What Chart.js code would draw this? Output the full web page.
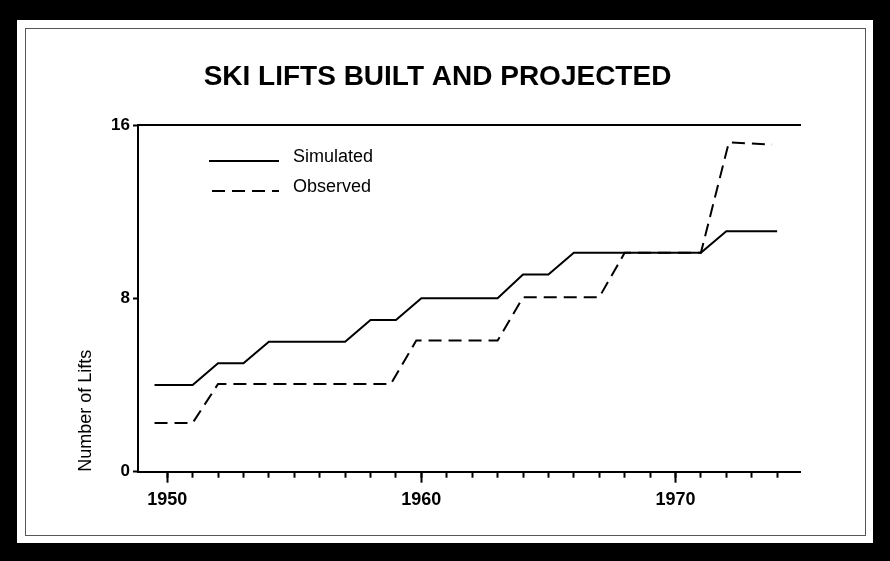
<!DOCTYPE html>
<html><head><meta charset="utf-8">
<script src="https://cdn.jsdelivr.net/npm/chart.js@4/dist/chart.umd.min.js"></script>
<style>html,body{margin:0;padding:0;background:#000;}canvas{display:block}</style>
</head><body>
<canvas id="c" width="890" height="561"></canvas>
<script>
const chartTitle = 'SKI LIFTS BUILT AND PROJECTED';
const yAxisTitle = 'Number of Lifts';
const seriesNames = ['Simulated', 'Observed'];
const simulatedYears  = [1949.5, 1951, 1952, 1953, 1954, 1957, 1958, 1959, 1960, 1963, 1964, 1965, 1966, 1971, 1972, 1974];
const simulatedValues = [4, 4, 5, 5, 6, 6, 7, 7, 8, 8, 9.1, 9.1, 10.1, 10.1, 11.1, 11.1];
const observedYears  = [1949.5, 1951, 1952, 1958.8, 1959.8, 1963, 1964, 1967, 1968, 1971, 1972.1, 1973.8];
const observedValues = [2.25, 2.25, 4.05, 4.05, 6.05, 6.05, 8.05, 8.05, 10.1, 10.1, 15.2, 15.1];
const xMajorTicks = [1950, 1960, 1970];
const xMinorTicks = [1950, 1951, 1952, 1953, 1954, 1955, 1956, 1957, 1958, 1959, 1960, 1961, 1962, 1963, 1964, 1965, 1966, 1967, 1968, 1969, 1970, 1971, 1972, 1973, 1974];
const yTicks = [0, 8, 16];

const X_MIN = 1948.85, X_MAX = 1974.9;
const FONT = "'Liberation Sans', Arial, sans-serif";
Chart.defaults.font.family = FONT;
Chart.defaults.color = '#000';

const framePlugin = {
  id: 'frame',
  beforeDraw(chart) {
    const ctx = chart.ctx;
    ctx.save();
    ctx.fillStyle = '#000';
    ctx.fillRect(0, 0, chart.width, chart.height);
    ctx.fillStyle = '#fff';
    ctx.fillRect(17, 20, 856, 523);
    ctx.strokeStyle = '#555';
    ctx.lineWidth = 1;
    ctx.strokeRect(25.5, 28.5, 840, 507);
    ctx.restore();
  }
};

const legendPlugin = {
  id: 'customLegend',
  afterDraw(chart) {
    const ctx = chart.ctx;
    ctx.save();
    chart.data.datasets.forEach((ds, i) => {
      const ly = 161 + i * 30;
      ctx.strokeStyle = ds.borderColor;
      ctx.lineWidth = 2;
      ctx.setLineDash(ds.borderDash || []);
      ctx.beginPath();
      ctx.moveTo(i === 0 ? 209 : 212, ly);
      ctx.lineTo(279, ly);
      ctx.stroke();
      ctx.setLineDash([]);
      ctx.fillStyle = '#000';
      ctx.font = '18px ' + FONT;
      ctx.textBaseline = 'middle';
      ctx.textAlign = 'left';
      ctx.fillText(ds.label, 293, ly - 4);
    });
    ctx.restore();
  }
};

new Chart(document.getElementById('c'), {
  type: 'line',
  data: {
    datasets: [
      { label: seriesNames[0], data: simulatedYears.map((x, i) => ({ x, y: simulatedValues[i] })),
        borderColor: '#000', borderWidth: 2, pointRadius: 0, tension: 0, fill: false, xAxisID: 'x', yAxisID: 'y' },
      { label: seriesNames[1], data: observedYears.map((x, i) => ({ x, y: observedValues[i] })),
        borderColor: '#000', borderWidth: 2, borderDash: [13, 7], pointRadius: 0, tension: 0, fill: false, xAxisID: 'x', yAxisID: 'y' }
    ]
  },
  options: {
    responsive: false,
    animation: false,
    devicePixelRatio: 1,
    layout: { padding: { top: 0, left: 75, right: 90, bottom: 49.3 } },
    plugins: {
      legend: { display: false },
      tooltip: { enabled: false },
      title: { display: true, text: chartTitle, color: '#000',
        font: { family: FONT, size: 28, weight: 'bold', lineHeight: 1.2 },
        padding: { top: 60.2, bottom: 31.2 } }
    },
    scales: {
      x: {
        type: 'linear', position: 'bottom', min: X_MIN, max: X_MAX,
        afterBuildTicks: s => { s.ticks = xMinorTicks.map(v => ({ value: v })); },
        afterFit: s => { s.height = 0; },
        ticks: { display: false },
        grid: { drawOnChartArea: false, drawTicks: true, tickLength: 6, tickWidth: 2, tickColor: '#000' },
        border: { display: true, color: '#000', width: 2 }
      },
      xMajor: {
        type: 'linear', position: 'bottom', min: X_MIN, max: X_MAX,
        afterBuildTicks: s => { s.ticks = xMajorTicks.map(v => ({ value: v })); },
        afterFit: s => { s.height = 40; },
        ticks: { autoSkip: false, maxRotation: 0, padding: 7, color: '#000',
          font: { size: 18, weight: 'bold' }, callback: v => String(v) },
        grid: { drawOnChartArea: false, drawTicks: true, tickLength: 11, tickWidth: 2, tickColor: '#000' },
        border: { display: false }
      },
      xTop: {
        type: 'linear', position: 'top', min: X_MIN, max: X_MAX,
        afterFit: s => { s.height = 0; },
        ticks: { display: false },
        grid: { display: false },
        border: { display: true, color: '#000', width: 2 }
      },
      y: {
        type: 'linear', position: 'left', min: 0, max: 16,
        afterBuildTicks: s => { s.ticks = yTicks.map(v => ({ value: v })); },
        afterFit: s => { s.width = 63; },
        ticks: { padding: 3, color: '#000', font: { size: 17, weight: 'bold' }, callback: v => String(v) },
        grid: { drawOnChartArea: false, drawTicks: true, tickLength: 5, tickWidth: 2, tickColor: '#000' },
        border: { display: true, color: '#000', width: 2 },
        title: { display: true, text: yAxisTitle, align: 'start', color: '#000',
          font: { size: 18, lineHeight: 1.2 }, padding: 0 }
      }
    }
  },
  plugins: [framePlugin, legendPlugin]
});
</script>
</body></html>
